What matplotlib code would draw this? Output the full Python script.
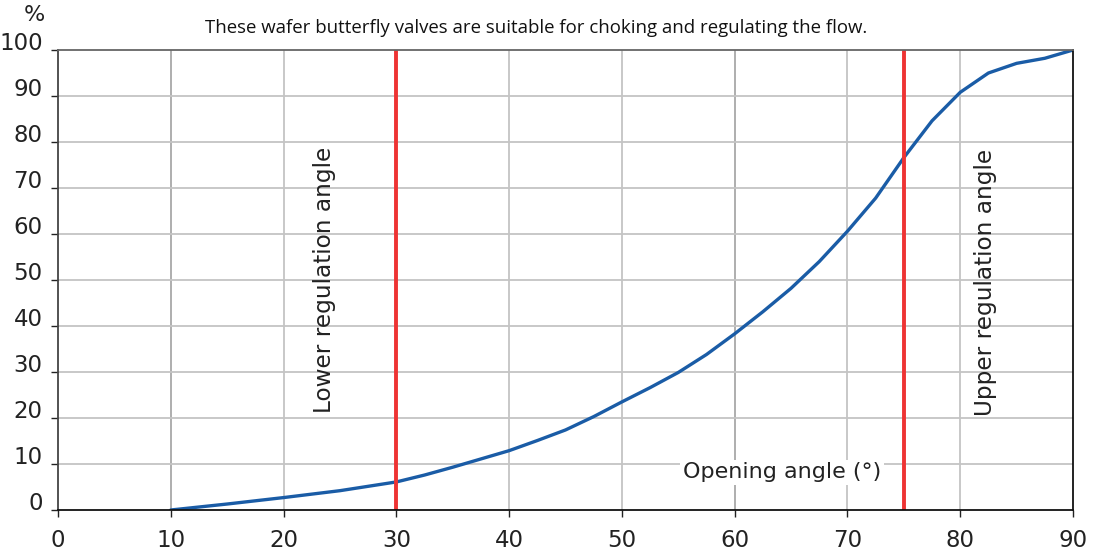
import matplotlib
matplotlib.use("Agg")
import matplotlib.pyplot as plt

# valve characteristic: flow (%) vs opening angle (deg)
angles = [10, 15, 20, 25, 30, 32.5, 35, 37.5, 40, 42.5, 45, 47.5, 50, 52.5,
          55, 57.5, 60, 62.5, 65, 67.5, 70, 72.5, 75, 77.5, 80, 82.5, 85,
          87.5, 90]
flow = [0, 1.3, 2.7, 4.2, 6.1, 7.6, 9.3, 11.1, 12.9, 15.1, 17.4, 20.3, 23.5,
        26.6, 29.9, 33.8, 38.3, 43.1, 48.2, 54.0, 60.6, 67.8, 76.6, 84.6,
        90.8, 95.0, 97.1, 98.2, 100]

lower_angle = 30
upper_angle = 75
x_ticks = list(range(0, 91, 10))
y_ticks = list(range(0, 101, 10))

title = "These wafer butterfly valves are suitable for choking and regulating the flow."

FONT = ["DejaVu Sans"]

fig = plt.figure(figsize=(10.93, 5.55), dpi=100)
ax = fig.add_axes([58 / 1093, 1 - 510 / 555, (1073 - 58) / 1093, (510 - 50) / 555])

ax.set_xlim(0, 90)
ax.set_ylim(0, 100)

# grid
for x in x_ticks[1:-1]:
    col = "#a8a8a8" if x in (10, 60) else "#c4c4c4"
    ax.axvline(x, color=col, lw=1.3, zorder=1)
for y in y_ticks[1:-1]:
    ax.axhline(y, color="#c4c4c4", lw=1.3, zorder=1)

ax.plot(angles, flow, color="#1a5ca6", lw=2.4, zorder=4, solid_capstyle="round",
        solid_joinstyle="round")
ax.axvline(lower_angle, color="#ee3333", lw=2.8, zorder=5)
ax.axvline(upper_angle, color="#ee3333", lw=2.8, zorder=5)

ax.set_xticks(x_ticks)
ax.set_yticks(y_ticks)
ax.tick_params(axis="both", direction="out", length=5, width=1.0, color="#222222",
               labelsize=16.5, labelcolor="#222222")
ax.tick_params(axis="x", pad=9)
ax.tick_params(axis="y", pad=6)
for lab in ax.get_yticklabels():
    lab.set_verticalalignment("baseline")
    lab.set_family(FONT)
for lab in ax.get_xticklabels():
    lab.set_family(FONT)

ax.spines["left"].set_color("#444444")
ax.spines["top"].set_color("#666666")
ax.spines["right"].set_color("#111111")
ax.spines["bottom"].set_color("#111111")
for s in ax.spines.values():
    s.set_linewidth(1.3)
    s.set_zorder(6)

ax.text(23.6, 50, "Lower regulation angle", rotation=90, ha="center", va="center",
        fontsize=16.7, color="#222222", family=FONT, zorder=3)
ax.text(82.2, 49.5, "Upper regulation angle", rotation=90, ha="center", va="center",
        fontsize=16.7, color="#222222", family=FONT, zorder=3)
ax.text(64.2, 8.2, "Opening angle (°)", ha="center", va="center", fontsize=16,
        color="#222222", family=FONT, zorder=3,
        bbox=dict(facecolor="white", edgecolor="none", pad=2))

fig.text(34 / 1093, 1 - 15 / 555, "%", ha="center", va="center", fontsize=16,
         color="#222222", family=FONT)
fig.text(536 / 1093, 1 - 28 / 555, title, ha="center", va="center", fontsize=13.4,
         color="#111111", family=["Open Sans", "DejaVu Sans"])

fig.savefig("out.png", dpi=100)
